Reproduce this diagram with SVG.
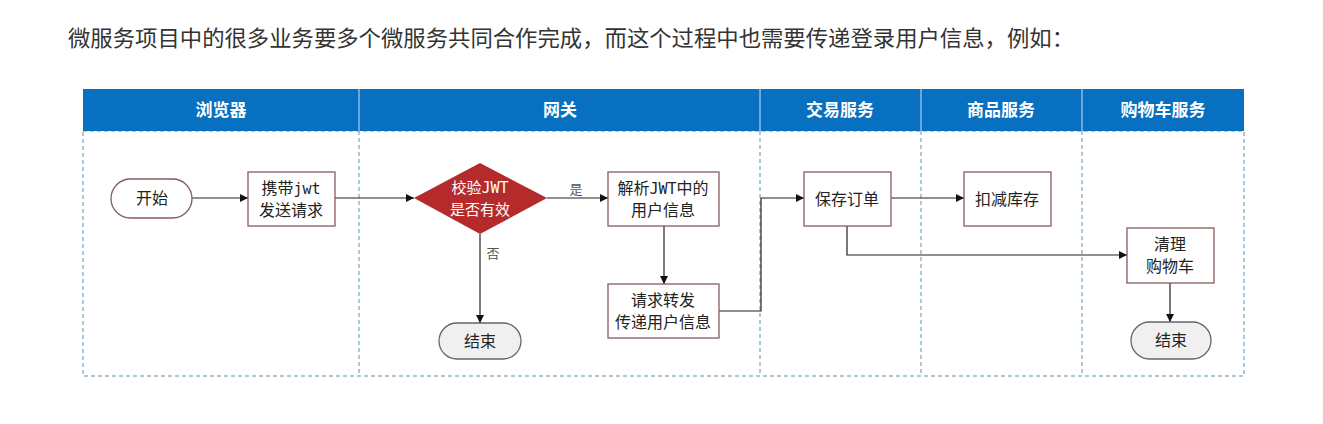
<svg xmlns="http://www.w3.org/2000/svg" width="1323" height="424" viewBox="0 0 1323 424">
<defs>
<marker id="arr" viewBox="0 0 10 10" refX="10" refY="5" markerWidth="8" markerHeight="8" markerUnits="userSpaceOnUse" orient="auto"><path d="M0,0 L10,5 L0,10 z" fill="#111"/></marker>
<style>
.hd{fill:#0870c0}
.ht{font-family:"Noto Sans CJK SC","Noto Sans",sans-serif;font-size:17px;font-weight:bold;fill:#fff;text-anchor:middle}
.lane{fill:none;stroke:#5b8fb5;stroke-width:1;stroke-dasharray:4,3}
.box{fill:#fff;stroke:#8a5a5a;stroke-width:1.3}
.pill{fill:#fff;stroke:#8a5a5a;stroke-width:1.3}
.end{fill:#f0f0f0;stroke:#666;stroke-width:1.3}
.t{font-family:"Noto Sans CJK SC","Noto Sans",sans-serif;font-size:16px;fill:#222;text-anchor:middle}
.tw{font-family:"Noto Sans CJK SC","Noto Sans",sans-serif;font-size:15px;fill:#fff;text-anchor:middle}
.m{font-family:"DejaVu Sans Mono",monospace;font-size:15px}
.lb{font-family:"Noto Sans CJK SC","Noto Sans",sans-serif;font-size:13px;fill:#555;text-anchor:middle}
.c{fill:none;stroke:#222;stroke-width:1.2;marker-end:url(#arr)}
</style>
</defs>
<rect width="1323" height="424" fill="#fff"/>
<text x="68" y="46" font-family="Noto Sans CJK SC,sans-serif" font-size="22" fill="#333" textLength="1006" lengthAdjust="spacingAndGlyphs">微服务项目中的很多业务要多个微服务共同合作完成，而这个过程中也需要传递登录用户信息，例如：</text>
<g id="lanes">
<rect x="83" y="131" width="1161" height="245" class="lane"/>
<line x1="359" y1="131" x2="359" y2="376" class="lane"/>
<line x1="760" y1="131" x2="760" y2="376" class="lane"/>
<line x1="921" y1="131" x2="921" y2="376" class="lane"/>
<line x1="1082" y1="131" x2="1082" y2="376" class="lane"/>
<rect x="83" y="89" width="1161" height="42" class="hd"/>
<line x1="359" y1="89" x2="359" y2="131" stroke="#cfe0f0" stroke-width="1"/>
<line x1="760" y1="89" x2="760" y2="131" stroke="#cfe0f0" stroke-width="1"/>
<line x1="921" y1="89" x2="921" y2="131" stroke="#cfe0f0" stroke-width="1"/>
<line x1="1082" y1="89" x2="1082" y2="131" stroke="#cfe0f0" stroke-width="1"/>
<text x="221" y="116" class="ht">浏览器</text>
<text x="560" y="116" class="ht">网关</text>
<text x="840" y="116" class="ht">交易服务</text>
<text x="1001" y="116" class="ht">商品服务</text>
<text x="1163" y="116" class="ht">购物车服务</text>
</g>
<g id="connectors">
<line x1="192" y1="198" x2="248" y2="198" class="c"/>
<line x1="335" y1="198" x2="414" y2="198" class="c"/>
<line x1="547" y1="198" x2="608" y2="198" class="c"/>
<line x1="480" y1="234" x2="480" y2="323" class="c"/>
<line x1="664" y1="226" x2="664" y2="284" class="c"/>
<polyline points="719,311 761,311 761,198 804,198" class="c"/>
<line x1="891" y1="198" x2="964" y2="198" class="c"/>
<polyline points="847,226 847,255 1127,255" class="c"/>
<line x1="1170" y1="283" x2="1170" y2="322" class="c"/>
<text x="576" y="194" class="lb">是</text>
<text x="493" y="258" class="lb">否</text>
</g>
<g id="start"><rect x="111" y="179" width="81" height="39" rx="19.5" class="pill"/><text x="152" y="204" class="t">开始</text></g>
<g id="send"><rect x="248" y="172" width="87" height="54" class="box"/><text x="291" y="194" class="t">携带<tspan class="m">jwt</tspan></text><text x="291" y="216" class="t">发送请求</text></g>
<g id="check"><polygon points="480,163 547,198 480,234 414,198" fill="#b52b2b"/><text x="480" y="193" class="tw">校验<tspan class="m">JWT</tspan></text><text x="480" y="215" class="tw">是否有效</text></g>
<g id="end1"><rect x="439" y="323" width="82" height="36" rx="18" class="end"/><text x="480" y="347" class="t">结束</text></g>
<g id="parse"><rect x="608" y="172" width="111" height="54" class="box"/><text x="663" y="194" class="t">解析<tspan class="m">JWT</tspan>中的</text><text x="663" y="216" class="t">用户信息</text></g>
<g id="forward"><rect x="608" y="284" width="111" height="54" class="box"/><text x="663" y="306" class="t">请求转发</text><text x="663" y="328" class="t">传递用户信息</text></g>
<g id="order"><rect x="804" y="172" width="87" height="54" class="box"/><text x="847" y="205" class="t">保存订单</text></g>
<g id="stock"><rect x="964" y="172" width="87" height="54" class="box"/><text x="1007" y="205" class="t">扣减库存</text></g>
<g id="cart"><rect x="1127" y="228" width="87" height="55" class="box"/><text x="1170" y="250" class="t">清理</text><text x="1170" y="272" class="t">购物车</text></g>
<g id="end2"><rect x="1131" y="322" width="80" height="37" rx="18.5" class="end"/><text x="1171" y="346" class="t">结束</text></g>
</svg>
